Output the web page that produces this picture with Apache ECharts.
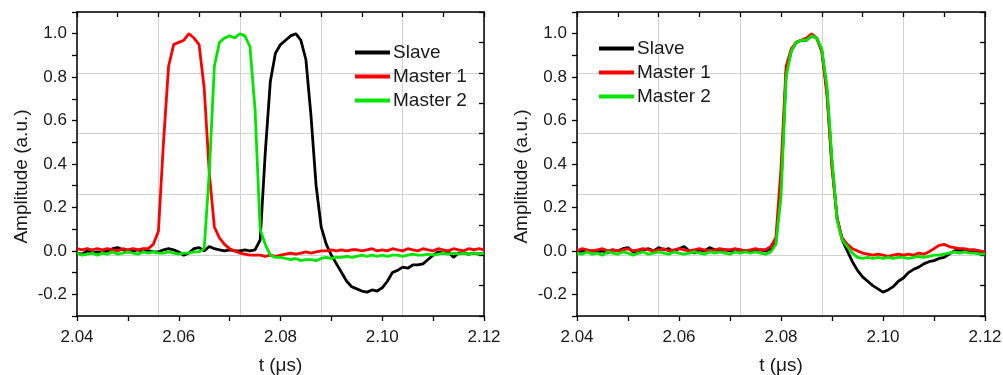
<!DOCTYPE html>
<html>
<head>
    <meta http-equiv="Content-Type" content="text/html; charset=utf-8" />
    <title></title>
    <script type="text/javascript" src="https://cdn.jsdelivr.net/npm/echarts@6/dist/echarts.min.js"></script>
    <style>
        html, body {
            margin: 0;
            padding: 0;
            background: #fff;
        }
    </style>
</head>
<body>
    <div id="chartView" style="width:1003px;height:375px;"></div>

    <script>
        //时间轴 (µs)
        var t = [2.040, 2.041, 2.042, 2.043, 2.044, 2.045, 2.046, 2.047, 2.048, 2.049,
                 2.050, 2.051, 2.052, 2.053, 2.054, 2.055, 2.056, 2.057, 2.058, 2.059,
                 2.060, 2.061, 2.062, 2.063, 2.064, 2.065, 2.066, 2.067, 2.068, 2.069,
                 2.070, 2.071, 2.072, 2.073, 2.074, 2.075, 2.076, 2.077, 2.078, 2.079,
                 2.080, 2.081, 2.082, 2.083, 2.084, 2.085, 2.086, 2.087, 2.088, 2.089,
                 2.090, 2.091, 2.092, 2.093, 2.094, 2.095, 2.096, 2.097, 2.098, 2.099,
                 2.100, 2.101, 2.102, 2.103, 2.104, 2.105, 2.106, 2.107, 2.108, 2.109,
                 2.110, 2.111, 2.112, 2.113, 2.114, 2.115, 2.116, 2.117, 2.118, 2.119,
                 2.120];

        //左图
        var leftSlave = [-0.01, -0.015, 0.0, -0.01, -0.005, -0.01, 0.0, 0.01, 0.015, 0.005,
                         -0.005, 0.0, 0.005, -0.005, 0.0, -0.005, -0.005, 0.005, 0.01, 0.005,
                         -0.005, -0.02, -0.01, 0.01, 0.015, 0.0, 0.02, 0.01, 0.005, 0.0,
                         0.005, 0.0, 0.0, 0.005, 0.0, 0.005, 0.05, 0.45, 0.78, 0.91,
                         0.95, 0.97, 0.99, 1.0, 0.97, 0.88, 0.62, 0.30, 0.11, 0.03,
                         -0.02, -0.06, -0.10, -0.14, -0.165, -0.175, -0.185, -0.19, -0.18, -0.185,
                         -0.17, -0.14, -0.10, -0.09, -0.075, -0.08, -0.065, -0.065, -0.06, -0.04,
                         -0.02, -0.005, -0.01, -0.005, -0.03, -0.01, -0.01, -0.015, -0.01, -0.015,
                         -0.01];
        var leftMaster1 = [0.01, 0.005, 0.01, 0.005, 0.01, 0.005, 0.01, 0.005, 0.0, 0.01,
                           0.005, 0.01, 0.005, 0.01, 0.01, 0.03, 0.09, 0.50, 0.85, 0.95,
                           0.96, 0.97, 1.0, 0.98, 0.95, 0.75, 0.36, 0.11, 0.06, 0.03,
                           0.01, 0.0, -0.01, -0.015, -0.02, -0.02, -0.02, -0.025, -0.02, -0.025,
                           -0.02, -0.015, -0.01, -0.015, -0.01, -0.005, -0.01, -0.005, 0.0, 0.0,
                           0.005, 0.0, 0.005, 0.0, 0.005, 0.005, 0.0, 0.005, 0.01, 0.0,
                           0.005, 0.0, 0.01, 0.005, 0.0, 0.01, 0.005, 0.0, 0.01, 0.005,
                           0.0, 0.01, 0.005, 0.0, 0.01, 0.005, 0.0, 0.01, 0.005, 0.01,
                           0.005];
        var leftMaster2 = [-0.01, -0.02, -0.015, -0.01, -0.02, -0.01, -0.015, -0.005, -0.015, -0.01,
                           -0.005, -0.01, -0.015, -0.005, -0.01, -0.005, -0.01, -0.01, -0.005, -0.01,
                           -0.015, -0.01, -0.01, -0.005, -0.005, 0.01, 0.36, 0.85, 0.96, 0.98,
                           0.99, 0.98, 1.0, 0.99, 0.94, 0.65, 0.10, 0.03, -0.02, -0.03,
                           -0.03, -0.035, -0.04, -0.035, -0.045, -0.04, -0.04, -0.045, -0.035, -0.03,
                           -0.035, -0.03, -0.03, -0.025, -0.03, -0.025, -0.02, -0.025, -0.02, -0.025,
                           -0.02, -0.025, -0.02, -0.02, -0.025, -0.02, -0.015, -0.02, -0.02, -0.015,
                           -0.02, -0.015, -0.01, -0.015, -0.01, -0.015, -0.01, -0.015, -0.01, -0.015,
                           -0.01];

        //右图
        var rightSlave = [-0.01, 0.0, -0.005, 0.0, -0.005, 0.0, -0.01, 0.005, 0.0, 0.01,
                          0.015, -0.005, -0.01, 0.005, 0.01, 0.0, 0.015, 0.005, 0.01, -0.005,
                          0.01, 0.02, 0.0, -0.01, 0.005, 0.0, 0.015, 0.005, 0.0, 0.005,
                          0.0, -0.005, 0.005, 0.0, -0.005, 0.0, 0.005, 0.0, 0.01, 0.04,
                          0.30, 0.82, 0.92, 0.96, 0.97, 0.97, 0.99, 0.98, 0.92, 0.74,
                          0.40, 0.15, 0.05, 0.0, -0.05, -0.09, -0.12, -0.14, -0.16, -0.175,
                          -0.19, -0.18, -0.165, -0.14, -0.125, -0.10, -0.085, -0.075, -0.06, -0.05,
                          -0.045, -0.035, -0.03, -0.015, 0.0, 0.005, 0.0, -0.005, -0.005, -0.01,
                          -0.01];
        var rightMaster1 = [0.0, 0.01, 0.005, 0.0, 0.005, 0.01, 0.0, 0.005, 0.0, 0.005,
                            0.01, 0.0, 0.005, 0.01, 0.005, 0.0, 0.005, 0.01, 0.0, 0.005,
                            0.01, 0.005, 0.0, 0.005, 0.01, 0.005, 0.0, 0.005, 0.01, 0.005,
                            0.005, 0.01, 0.005, 0.0, 0.005, 0.01, 0.005, 0.005, 0.02, 0.06,
                            0.38, 0.85, 0.93, 0.96, 0.97, 0.98, 1.0, 0.98, 0.92, 0.72,
                            0.38, 0.15, 0.06, 0.03, 0.01, 0.0, -0.01, -0.015, -0.02, -0.015,
                            -0.02, -0.025, -0.02, -0.015, -0.02, -0.015, -0.02, -0.01, -0.015, -0.005,
                            0.01, 0.025, 0.03, 0.02, 0.015, 0.01, 0.01, 0.005, 0.005, 0.0,
                            -0.005];
        var rightMaster2 = [-0.01, -0.015, -0.005, -0.015, -0.01, -0.02, -0.005, -0.01, -0.015, -0.005,
                            -0.01, -0.02, -0.01, -0.005, -0.015, -0.01, -0.005, -0.01, -0.015, -0.005,
                            -0.01, -0.015, -0.01, -0.005, -0.01, -0.015, -0.005, -0.01, -0.005, -0.01,
                            -0.015, -0.005, -0.01, -0.005, -0.01, -0.005, -0.01, -0.015, -0.005, 0.03,
                            0.25, 0.80, 0.92, 0.96, 0.97, 0.97, 0.99, 0.98, 0.93, 0.76,
                            0.42, 0.14, 0.05, 0.02, -0.01, -0.03, -0.035, -0.03, -0.035, -0.03,
                            -0.035, -0.03, -0.035, -0.03, -0.03, -0.035, -0.03, -0.025, -0.03, -0.025,
                            -0.02, -0.02, -0.015, -0.01, -0.005, -0.01, -0.005, -0.01, -0.01, -0.015,
                            -0.015];

        var seriesNames = ["Slave", "Master 1", "Master 2"];
        var seriesColors = ["#000000", "#ff0000", "#00e600"];
        var xTickLabels = ["2.04", "2.06", "2.08", "2.10", "2.12"];
        var yTickLabels = ["-0.2", "0.0", "0.2", "0.4", "0.6", "0.8", "1.0"];

        var fontName = "Liberation Sans";

        function pairs(values) {
            return t.map(function (x, i) { return [x, values[i]]; });
        }

        function mainX(gridIndex) {
            return {
                type: "value", gridIndex: gridIndex, position: "bottom",
                min: 2.04, max: 2.12, interval: 0.01,
                name: "t (μs)", nameLocation: "middle", nameGap: 40,
                nameTextStyle: { fontFamily: fontName, fontSize: 19, color: "#1a1a1a" },
                axisLine: { show: true, onZero: false, lineStyle: { color: "#000", width: 1.5 } },
                axisTick: { show: true, inside: false, length: 5, lineStyle: { color: "#000", width: 1.3 } },
                splitLine: { show: false },
                axisLabel: {
                    margin: 13, fontFamily: fontName, fontSize: 17, color: "#1a1a1a",
                    formatter: function (v) {
                        var s = v.toFixed(2);
                        return xTickLabels.indexOf(s) >= 0 ? s : "";
                    }
                }
            };
        }

        function mainY(gridIndex) {
            return {
                type: "value", gridIndex: gridIndex, position: "left",
                min: -0.3, max: 1.1, interval: 0.1,
                name: "Amplitude (a.u.)", nameLocation: "middle", nameGap: 46,
                nameTextStyle: { fontFamily: fontName, fontSize: 19, color: "#1a1a1a", padding: [0, 25, 0, 0] },
                axisLine: { show: true, onZero: false, lineStyle: { color: "#000", width: 1.5 } },
                axisTick: { show: true, inside: false, length: 5, lineStyle: { color: "#000", width: 1.3 } },
                splitLine: { show: false },
                axisLabel: {
                    margin: 10, fontFamily: fontName, fontSize: 17, color: "#1a1a1a",
                    formatter: function (v) {
                        var s = (Math.abs(v) < 1e-9 ? 0 : v).toFixed(1);
                        return yTickLabels.indexOf(s) >= 0 ? s : "";
                    }
                }
            };
        }

        //辅助轴：上、右边框和灰色网格（5等分）
        function auxAxis(gridIndex, position) {
            return {
                type: "value", gridIndex: gridIndex, position: position,
                min: 0, max: 5, interval: 1,
                axisLine: { show: true, onZero: false, lineStyle: { color: "#000", width: 1.5 } },
                axisTick: { show: true, inside: true, length: 5, lineStyle: { color: "#000", width: 1.3 } },
                minorTick: { show: true, splitNumber: 2, length: 5, lineStyle: { color: "#000", width: 1.3 } },
                axisLabel: { show: false },
                splitLine: { show: true, lineStyle: { color: "#d2d2d2", width: 1 } }
            };
        }

        function makeSeries(values, k, axisIndex) {
            return {
                name: seriesNames[k], type: "line",
                xAxisIndex: axisIndex, yAxisIndex: axisIndex,
                symbol: "none", showSymbol: false,
                color: seriesColors[k],
                lineStyle: { color: seriesColors[k], width: 2.8 },
                data: pairs(values)
            };
        }

        function makeLegend(left, top) {
            return {
                orient: "vertical", left: left, top: top, padding: 0,
                data: seriesNames, icon: "rect", itemWidth: 35, itemHeight: 4, itemGap: 5,
                textStyle: { fontFamily: fontName, fontSize: 19, color: "#1a1a1a", padding: [0, 0, 0, -2] }
            };
        }

        var myChart = echarts.init(document.getElementById("chartView"));
        var option = {
            animation: false,
            backgroundColor: "#fff",
            grid: [
                { left: 77, right: 519, top: 12, bottom: 59, outerBoundsMode: "none" },
                { left: 577, right: 18, top: 12, bottom: 59, outerBoundsMode: "none" }
            ],
            legend: [makeLegend(355, 43), makeLegend(599, 39)],
            xAxis: [mainX(0), auxAxis(0, "top"), mainX(1), auxAxis(1, "top")],
            yAxis: [mainY(0), auxAxis(0, "right"), mainY(1), auxAxis(1, "right")],
            series: [
                makeSeries(leftSlave, 0, 0),
                makeSeries(leftMaster1, 1, 0),
                makeSeries(leftMaster2, 2, 0),
                makeSeries(rightSlave, 0, 2),
                makeSeries(rightMaster1, 1, 2),
                makeSeries(rightMaster2, 2, 2)
            ]
        };
        myChart.setOption(option);
    </script>
</body>
</html>
